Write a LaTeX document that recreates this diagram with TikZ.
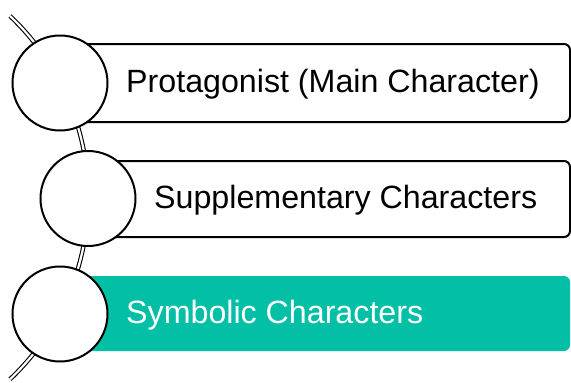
\documentclass[tikz,border=0pt]{standalone}
\usepackage{fontspec}
\setmainfont{Liberation Sans}
\definecolor{teal1}{RGB}{3,191,166}
\begin{document}
\begin{tikzpicture}[x=1pt,y=-1pt,
  band/.style={draw=black,line width=2pt,fill=white,rounded corners=6pt},
  bandfill/.style={draw=none,fill=teal1,rounded corners=6pt},
  dot/.style={circle,draw=black,line width=2pt,fill=white,minimum size=95pt,inner sep=0pt},
  lbl/.style={anchor=base west,font=\fontsize{32.2}{36}\selectfont,inner sep=0pt},
  rail/.style={double=white,double distance=2.2pt,line width=1.1pt,draw=black}]
\useasboundingbox (0,0) rectangle (571,383);
\coordinate (arcstart) at (10,16);
\draw[rail] (arcstart) arc[start angle=-46.6,end angle=46.6,radius=250];
\draw[band] (60,44) rectangle (570,122);
\draw[band] (88,161) rectangle (570,237);
\fill[bandfill] (60,276) rectangle (570,351);
\node[dot] (c1) at (60,83) {};
\node[dot] (c2) at (88,198.5) {};
\node[dot] (c3) at (60,314) {};
\node[lbl] (t1) at (126,92) {Protagonist (Main Character)};
\node[lbl] (t2) at (154,208) {Supplementary Characters};
\node[lbl,text=white] (t3) at (126,323) {Symbolic Characters};
\end{tikzpicture}
\end{document}
